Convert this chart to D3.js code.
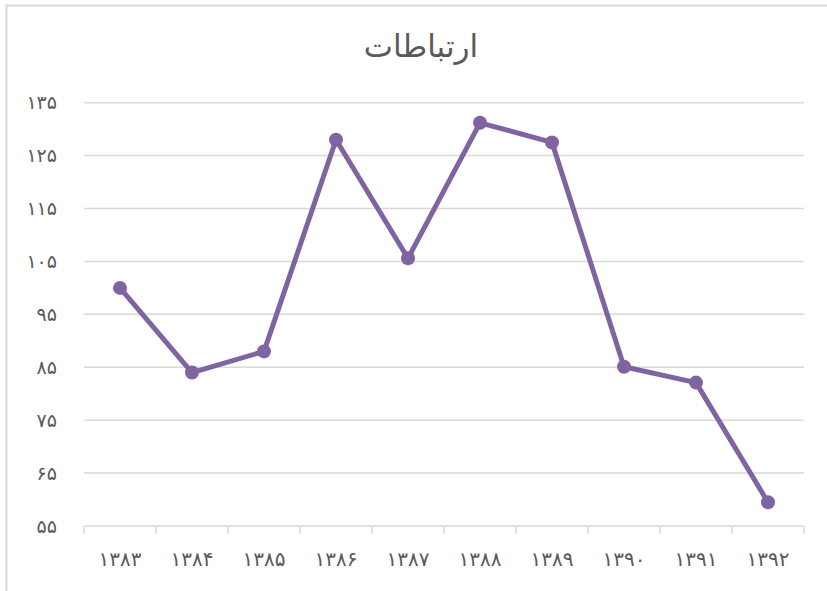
<!DOCTYPE html>
<html>
<head>
<meta charset="utf-8">
<script src="https://cdn.jsdelivr.net/npm/d3@7"></script>
<style>
  body { margin: 0; background: #fff; }
  svg { display: block; }
</style>
</head>
<body>
<svg width="827" height="591"></svg>
<script>
var years = ["۱۳۸۳", "۱۳۸۴", "۱۳۸۵", "۱۳۸۶", "۱۳۸۷", "۱۳۸۸", "۱۳۸۹", "۱۳۹۰", "۱۳۹۱", "۱۳۹۲"];
var values = [100, 84, 88, 128, 105.6, 131.2, 127.5, 85.1, 82.1, 59.5];
var yTicks = [55, 65, 75, 85, 95, 105, 115, 125, 135];
var title = "ارتباطات";

var svg = d3.select("svg"),
    margin = {top: 102.7, right: 23, bottom: 65, left: 84},
    width = 827 - margin.left - margin.right,
    height = 591 - margin.top - margin.bottom;

function toFa(n) {
    return String(n).replace(/\d/g, function(c) { return "۰۱۲۳۴۵۶۷۸۹"[+c]; });
}

// outer chart border
svg.append("rect")
    .attr("x", 6.5).attr("y", 5.5)
    .attr("width", 840).attr("height", 600)
    .attr("fill", "none")
    .attr("stroke", "#d9d9d9")
    .attr("stroke-width", 2);

svg.append("text")
    .attr("x", 421).attr("y", 57)
    .attr("text-anchor", "middle")
    .attr("font-family", "DejaVu Sans")
    .attr("font-size", 31)
    .attr("fill", "#595959")
    .text(title);

var g = svg.append("g").attr("transform", "translate(" + margin.left + "," + margin.top + ")");

var x = d3.scaleBand().domain(years).range([0, width]);
var y = d3.scaleLinear().domain([55, 135]).range([height, 0]);

// gridlines
g.selectAll(".grid")
    .data(yTicks.slice(1))
    .enter().append("line")
    .attr("x1", 0).attr("x2", width)
    .attr("y1", function(d) { return y(d); })
    .attr("y2", function(d) { return y(d); })
    .attr("stroke", "#d9d9d9")
    .attr("stroke-width", 1.5);

// y labels
g.selectAll(".ylab")
    .data(yTicks)
    .enter().append("text")
    .attr("x", -27)
    .attr("y", function(d) { return y(d); })
    .attr("dy", "0.35em")
    .attr("text-anchor", "end")
    .attr("font-family", "DejaVu Sans")
    .attr("font-size", 19)
    .attr("fill", "#595959")
    .text(function(d) { return toFa(d); });

// x axis
var xAxis = g.append("g")
    .attr("transform", "translate(0," + height + ")");
xAxis.append("line")
    .attr("x1", 0).attr("x2", width)
    .attr("stroke", "#d9d9d9").attr("stroke-width", 1.5);
var edges = years.map(function(d) { return x(d); }).concat([width]);
xAxis.selectAll(".tick")
    .data(edges)
    .enter().append("line")
    .attr("x1", function(d) { return d; })
    .attr("x2", function(d) { return d; })
    .attr("y1", 0).attr("y2", 8)
    .attr("stroke", "#d9d9d9").attr("stroke-width", 1.5);
xAxis.selectAll(".xlab")
    .data(years)
    .enter().append("text")
    .attr("x", function(d) { return x(d) + x.bandwidth() / 2; })
    .attr("y", 40)
    .attr("text-anchor", "middle")
    .attr("font-family", "DejaVu Sans")
    .attr("font-size", 20)
    .attr("fill", "#595959")
    .text(function(d) { return d; });

var pts = years.map(function(d, i) { return [x(d) + x.bandwidth() / 2, y(values[i])]; });

g.append("path")
    .datum(pts)
    .attr("d", d3.line())
    .attr("fill", "none")
    .attr("stroke", "#8064a2")
    .attr("stroke-width", 5)
    .attr("stroke-linejoin", "round");

g.selectAll(".dot")
    .data(pts)
    .enter().append("circle")
    .attr("cx", function(d) { return d[0]; })
    .attr("cy", function(d) { return d[1]; })
    .attr("r", 7)
    .attr("fill", "#8064a2");
</script>
</body>
</html>
